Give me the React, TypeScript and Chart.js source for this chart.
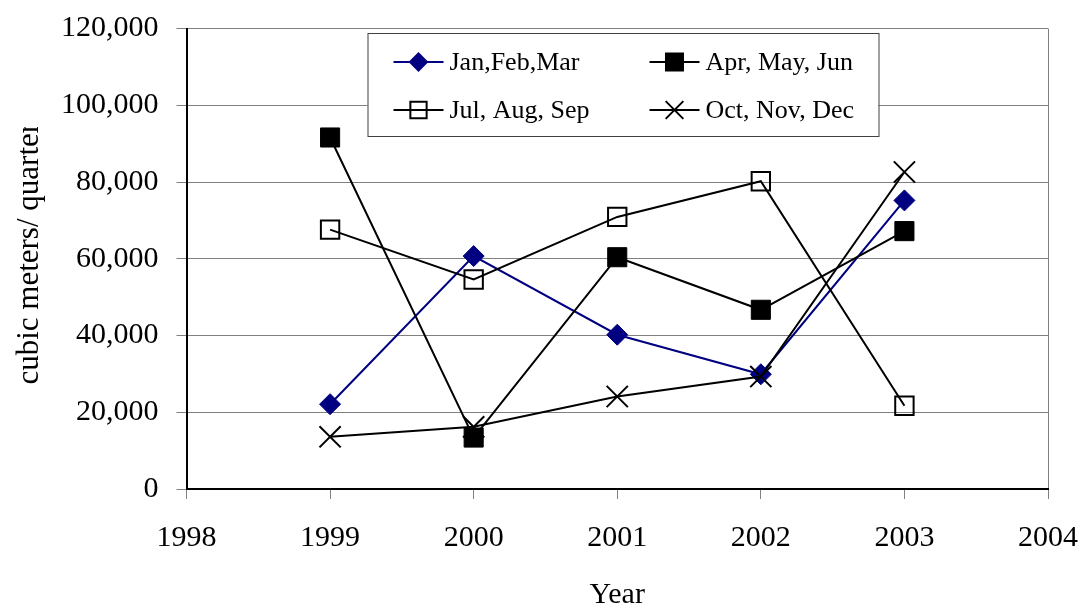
import React, { useEffect, useRef } from 'react';
import { Chart, registerables } from 'chart.js';
import { drawPoint } from 'chart.js/helpers';

Chart.register(...registerables);

// ---- data ----
const years = [1999, 2000, 2001, 2002, 2003];
const janFebMar = [22100, 60700, 40200, 29900, 75200];
const aprMayJun = [91600, 13400, 60400, 46700, 67200];
const julAugSep = [67600, 54600, 70900, 80200, 21700];
const octNovDec = [13600, 16200, 24100, 29300, 82600];
const seriesLabels = ['Jan,Feb,Mar', 'Apr, May, Jun', 'Jul, Aug, Sep', 'Oct, Nov, Dec'];
const xAxisMin = 1998;
const xAxisMax = 2004;
const yAxisMax = 120000;
const yAxisStep = 20000;
const xTitle = 'Year';
const yTitle = 'cubic meters/ quarter';

const FONT = '"Liberation Serif", "Times New Roman", serif';
const GRID = '#808080';

const toPoints = (vals: number[]) => years.map((x, i) => ({ x, y: vals[i] }));

const legendMarkers = [
  { style: 'rectRot', radius: 8.5, fill: '#000080', stroke: '#000080', line: '#000080' },
  { style: 'rect', radius: 12, fill: '#000000', stroke: '#000000', line: '#000000' },
  { style: 'rect', radius: 11.5, fill: 'rgba(0,0,0,0)', stroke: '#000000', line: '#000000' },
  { style: 'crossRot', radius: 12.5, fill: '#000000', stroke: '#000000', line: '#000000' },
];

const overlayPlugin = {
  id: 'overlay',
  afterDraw(chart: any) {
    const { ctx, chartArea } = chart;
    const ca = chartArea;
    ctx.save();
    // X title
    ctx.fillStyle = '#000';
    ctx.font = `30px ${FONT}`;
    ctx.textAlign = 'center';
    ctx.textBaseline = 'alphabetic';
    ctx.fillText(xTitle, (ca.left + ca.right) / 2, 603);
    // Y title (clipped at top like the original)
    ctx.save();
    ctx.beginPath();
    ctx.rect(0, 127, 70, 606);
    ctx.clip();
    ctx.font = `31px ${FONT}`;
    ctx.translate(30, (ca.top + ca.bottom) / 2 - 5);
    ctx.rotate(-Math.PI / 2);
    ctx.textAlign = 'center';
    ctx.textBaseline = 'middle';
    ctx.fillText(yTitle, 0, 0);
    ctx.restore();

    // Legend box
    const bx = ca.left + 181;
    const by = ca.top + 4.5;
    const bw = 511;
    const bh = 103;
    ctx.fillStyle = '#ffffff';
    ctx.fillRect(bx, by, bw, bh);
    ctx.strokeStyle = '#404040';
    ctx.lineWidth = 1;
    ctx.strokeRect(bx + 0.5, by + 0.5, bw, bh);
    ctx.font = `26px ${FONT}`;
    ctx.textAlign = 'left';
    ctx.textBaseline = 'middle';
    const cols = [26, 282];
    const rows = [29, 77];
    seriesLabels.forEach((label, i) => {
      const cx = bx + cols[i % 2];
      const cy = by + rows[Math.floor(i / 2)];
      const m = legendMarkers[i];
      ctx.strokeStyle = m.line;
      ctx.lineWidth = 2;
      ctx.beginPath();
      ctx.moveTo(cx, cy);
      ctx.lineTo(cx + 50, cy);
      ctx.stroke();
      ctx.fillStyle = m.fill;
      ctx.strokeStyle = m.stroke;
      ctx.lineWidth = 2;
      drawPoint(ctx, { pointStyle: m.style, radius: m.radius, rotation: 0, borderWidth: 2 } as any, cx + 25, cy);
      ctx.fillStyle = '#000';
      ctx.fillText(label, cx + 56, cy + 1);
    });
    ctx.restore();
  },
};

export default function App() {
  const ref = useRef<HTMLCanvasElement | null>(null);
  useEffect(() => {
    if (!ref.current) return;
    const chart = new Chart(ref.current, {
      type: 'line',
      data: {
        datasets: [
          {
            label: seriesLabels[0],
            data: toPoints(janFebMar),
            borderColor: '#000080',
            backgroundColor: '#000080',
            borderWidth: 2,
            pointStyle: 'rectRot',
            pointRadius: 10.5,
            pointBorderWidth: 1,
            pointBackgroundColor: '#000080',
            pointBorderColor: '#000080',
            order: 4,
          },
          {
            label: seriesLabels[1],
            data: toPoints(aprMayJun),
            borderColor: '#000000',
            backgroundColor: '#000000',
            borderWidth: 2,
            pointStyle: 'rect',
            pointRadius: 13.5,
            pointBorderWidth: 1,
            pointBackgroundColor: '#000000',
            pointBorderColor: '#000000',
            order: 3,
          },
          {
            label: seriesLabels[2],
            data: toPoints(julAugSep),
            borderColor: '#000000',
            backgroundColor: 'rgba(0,0,0,0)',
            borderWidth: 2,
            pointStyle: 'rect',
            pointRadius: 13,
            pointBorderWidth: 2,
            pointBackgroundColor: 'rgba(0,0,0,0)',
            pointBorderColor: '#000000',
            order: 2,
          },
          {
            label: seriesLabels[3],
            data: toPoints(octNovDec),
            borderColor: '#000000',
            backgroundColor: '#000000',
            borderWidth: 2,
            pointStyle: 'crossRot',
            pointRadius: 15,
            pointBorderWidth: 2,
            pointBackgroundColor: '#000000',
            pointBorderColor: '#000000',
            order: 1,
          },
        ],
      },
      options: {
        animation: false,
        responsive: true,
        maintainAspectRatio: false,
        layout: { padding: { left: 43, top: 28.5, right: 33, bottom: 29 } },
        plugins: {
          legend: { display: false },
          tooltip: { enabled: false },
        },
        elements: { line: { tension: 0 } },
        scales: {
          x: {
            type: 'linear',
            min: xAxisMin,
            max: xAxisMax,
            afterFit: (s: any) => {
              s.paddingLeft = 0;
              s.paddingRight = 0;
            },
            ticks: {
              stepSize: 1,
              color: '#000',
              font: { family: FONT, size: 30 },
              padding: 21,
              maxRotation: 0,
              callback: (v: any) => String(v),
            },
            grid: {
              color: (c: any) => (c.tick && c.tick.value === xAxisMax ? GRID : 'rgba(0,0,0,0)'),
              tickColor: GRID,
              tickLength: 10,
              lineWidth: 1,
            },
            border: { color: '#000', width: 2 },
          },
          y: {
            min: 0,
            max: yAxisMax,
            afterFit: (s: any) => {
              s.paddingTop = 0;
              s.paddingBottom = 0;
            },
            ticks: {
              stepSize: yAxisStep,
              color: '#000',
              font: { family: FONT, size: 30 },
              padding: 18,
              callback: (v: any) => Number(v).toLocaleString('en-US'),
            },
            grid: {
              color: (c: any) => (c.tick && c.tick.value === 0 ? 'rgba(0,0,0,0)' : GRID),
              tickColor: GRID,
              tickLength: 10,
              lineWidth: 1,
            },
            border: { color: '#000', width: 2 },
          },
        },
      },
      plugins: [overlayPlugin],
    } as any);
    return () => chart.destroy();
  }, []);
  return (
    <div style={{ position: 'fixed', left: 0, top: 0, width: 1081, height: 606, background: '#fff' }}>
      <canvas ref={ref} />
    </div>
  );
}
